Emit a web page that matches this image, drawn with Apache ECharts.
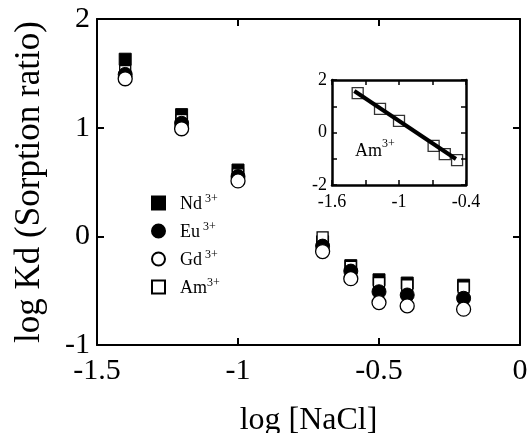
<!DOCTYPE html>
<html>
<head>
<meta charset="utf-8">
<script src="https://cdn.jsdelivr.net/npm/echarts@6/dist/echarts.min.js"></script>
<style>html,body{margin:0;padding:0;background:#fff}#c{width:529px;height:433px}</style>
</head>
<body>
<div id="c"></div>
<script>
// ---- data ----
var logNaCl = [-1.4, -1.2, -1.0, -0.7, -0.6, -0.5, -0.4, -0.2];
var Nd = [1.63, 1.12, 0.61, -0.05, -0.27, -0.40, -0.43, -0.45];
var Am = [1.52, 1.07, 0.57, -0.01, -0.28, -0.43, -0.45, -0.47];
var Eu = [1.49, 1.04, 0.55, -0.09, -0.32, -0.51, -0.54, -0.57];
var Gd = [1.45, 0.99, 0.51, -0.14, -0.39, -0.61, -0.64, -0.67];
var xTicks = [-1.5, -1, -0.5, 0];
var yTicks = [-1, 0, 1, 2];
// inset (Am3+)
var insetX = [-1.37, -1.17, -1.0, -0.69, -0.59, -0.48];
var insetY = [1.50, 0.90, 0.44, -0.51, -0.82, -1.05];
var fitX = [-1.40, -0.49];
var fitY = [1.58, -1.01];
var insetXLabels = [-1.6, -1, -0.4];
var insetYLabels = [-2, 0, 2];

function pairs(xs, ys){ return xs.map(function(x,i){ return [x, ys[i]]; }); }

var F = 'Liberation Serif';
var black = '#000';
var chart = echarts.init(document.getElementById('c'));

function axisCommon(extra){
  var o = {
    axisLine: {show: true, onZero: false, lineStyle: {color: black, width: 2}},
    axisTick: {show: true, inside: true, length: 7, lineStyle: {color: black, width: 2}},
    splitLine: {show: false},
    axisLabel: {show: false}
  };
  for (var k in extra) o[k] = extra[k];
  return o;
}
function insetAxis(extra){
  var o = {
    axisLine: {show: true, onZero: false, lineStyle: {color: black, width: 2.5}},
    axisTick: {show: true, inside: true, length: 5, lineStyle: {color: black, width: 1.5}},
    splitLine: {show: false},
    axisLabel: {show: false}
  };
  for (var k in extra) o[k] = extra[k];
  return o;
}
function fmtIn(list){
  return function(v){
    var r = Math.round(v*10)/10;
    for (var i=0;i<list.length;i++){ if (Math.abs(list[i]-r)<1e-6) return String(list[i]); }
    return '';
  };
}

var names = {Nd: '{n|Nd}{s| 3+}', Eu: '{n|Eu} {s|3+}', Gd: '{n|Gd} {s|3+}', Am: '{n|Am}{s|3+}'};

var option = {
  backgroundColor: '#fff',
  animation: false,
  grid: [
    {left: 97, top: 19, width: 423, height: 326, outerBoundsMode: 'none'},
    {left: 332, top: 80, width: 134, height: 105, outerBoundsMode: 'none'}
  ],
  xAxis: [
    axisCommon({type: 'value', gridIndex: 0, position: 'bottom', min: -1.5, max: 0, interval: 0.5,
      axisLabel: {show: true, color: black, fontFamily: F, fontSize: 30, margin: 11,
        formatter: function(v){ return String(Math.round(v*10)/10); }},
      name: 'log [NaCl]', nameLocation: 'middle', nameGap: 60,
      nameTextStyle: {color: black, fontFamily: F, fontSize: 32}}),
    axisCommon({type: 'value', gridIndex: 0, position: 'top', min: -1.5, max: 0, interval: 0.5}),
    insetAxis({type: 'value', gridIndex: 1, position: 'bottom', min: -1.6, max: -0.4, interval: 0.3,
      axisLabel: {show: true, color: black, fontFamily: F, fontSize: 18, margin: 8, formatter: fmtIn(insetXLabels)}}),
    insetAxis({type: 'value', gridIndex: 1, position: 'top', min: -1.6, max: -0.4, interval: 0.3})
  ],
  yAxis: [
    axisCommon({type: 'value', gridIndex: 0, position: 'left', min: -1, max: 2, interval: 1,
      axisLabel: {show: true, color: black, fontFamily: F, fontSize: 30, margin: 7},
      name: 'log Kd (Sorption ratio)', nameLocation: 'middle', nameGap: 50, nameRotate: 90,
      nameTextStyle: {color: black, fontFamily: F, fontSize: 35}}),
    axisCommon({type: 'value', gridIndex: 0, position: 'right', min: -1, max: 2, interval: 1}),
    insetAxis({type: 'value', gridIndex: 1, position: 'left', min: -2, max: 2, interval: 1,
      axisLabel: {show: true, color: black, fontFamily: F, fontSize: 18, margin: 5, formatter: fmtIn(insetYLabels)}}),
    insetAxis({type: 'value', gridIndex: 1, position: 'right', min: -2, max: 2, interval: 1})
  ],
  legend: {
    orient: 'vertical', left: 146, top: 188, itemWidth: 13, itemHeight: 13, itemGap: 8,
    data: ['Nd', 'Eu', 'Gd', 'Am'],
    formatter: function(n){ return names[n]; },
    textStyle: {color: black, fontFamily: F, padding: [0,0,0,10], lineHeight: 20,
      rich: {
        n: {fontFamily: F, fontSize: 18, color: black, lineHeight: 20, verticalAlign: 'bottom'},
        s: {fontFamily: F, fontSize: 12, color: black, lineHeight: 20, verticalAlign: 'top'}
      }}
  },
  graphic: [{
    type: 'text', left: 355, top: 138,
    style: {rich: {n: {fontFamily: F, fontSize: 18, fill: black, lineHeight: 22, verticalAlign: 'bottom'},
                   s: {fontFamily: F, fontSize: 12, fill: black, lineHeight: 22, verticalAlign: 'top'}},
            text: '{n|Am}{s|3+}'}
  }],
  series: [
    {name: 'Nd', type: 'scatter', xAxisIndex: 0, yAxisIndex: 0, symbol: 'rect', symbolSize: 12,
      itemStyle: {color: black, borderColor: black, borderWidth: 1, opacity: 1}, data: pairs(logNaCl, Nd)},
    {name: 'Am', type: 'scatter', xAxisIndex: 0, yAxisIndex: 0, symbol: 'rect', symbolSize: 11,
      itemStyle: {color: '#fff', borderColor: black, borderWidth: 1.3, opacity: 1}, data: pairs(logNaCl, Am)},
    {name: 'Eu', type: 'scatter', xAxisIndex: 0, yAxisIndex: 0, symbol: 'circle', symbolSize: 14,
      itemStyle: {color: black, borderColor: black, borderWidth: 1, opacity: 1}, data: pairs(logNaCl, Eu)},
    {name: 'Gd', type: 'scatter', xAxisIndex: 0, yAxisIndex: 0, symbol: 'circle', symbolSize: 14,
      itemStyle: {color: '#fff', borderColor: black, borderWidth: 1.3, opacity: 1}, data: pairs(logNaCl, Gd)},
    {name: 'AmInset', type: 'scatter', xAxisIndex: 2, yAxisIndex: 2, symbol: 'rect', symbolSize: 11,
      itemStyle: {color: 'rgba(0,0,0,0)', borderColor: black, borderWidth: 1.3}, data: pairs(insetX, insetY)},
    {name: 'fit', type: 'line', xAxisIndex: 2, yAxisIndex: 2, symbol: 'none',
      lineStyle: {color: black, width: 4}, data: pairs(fitX, fitY)}
  ]
};
chart.setOption(option);
</script>
</body>
</html>
